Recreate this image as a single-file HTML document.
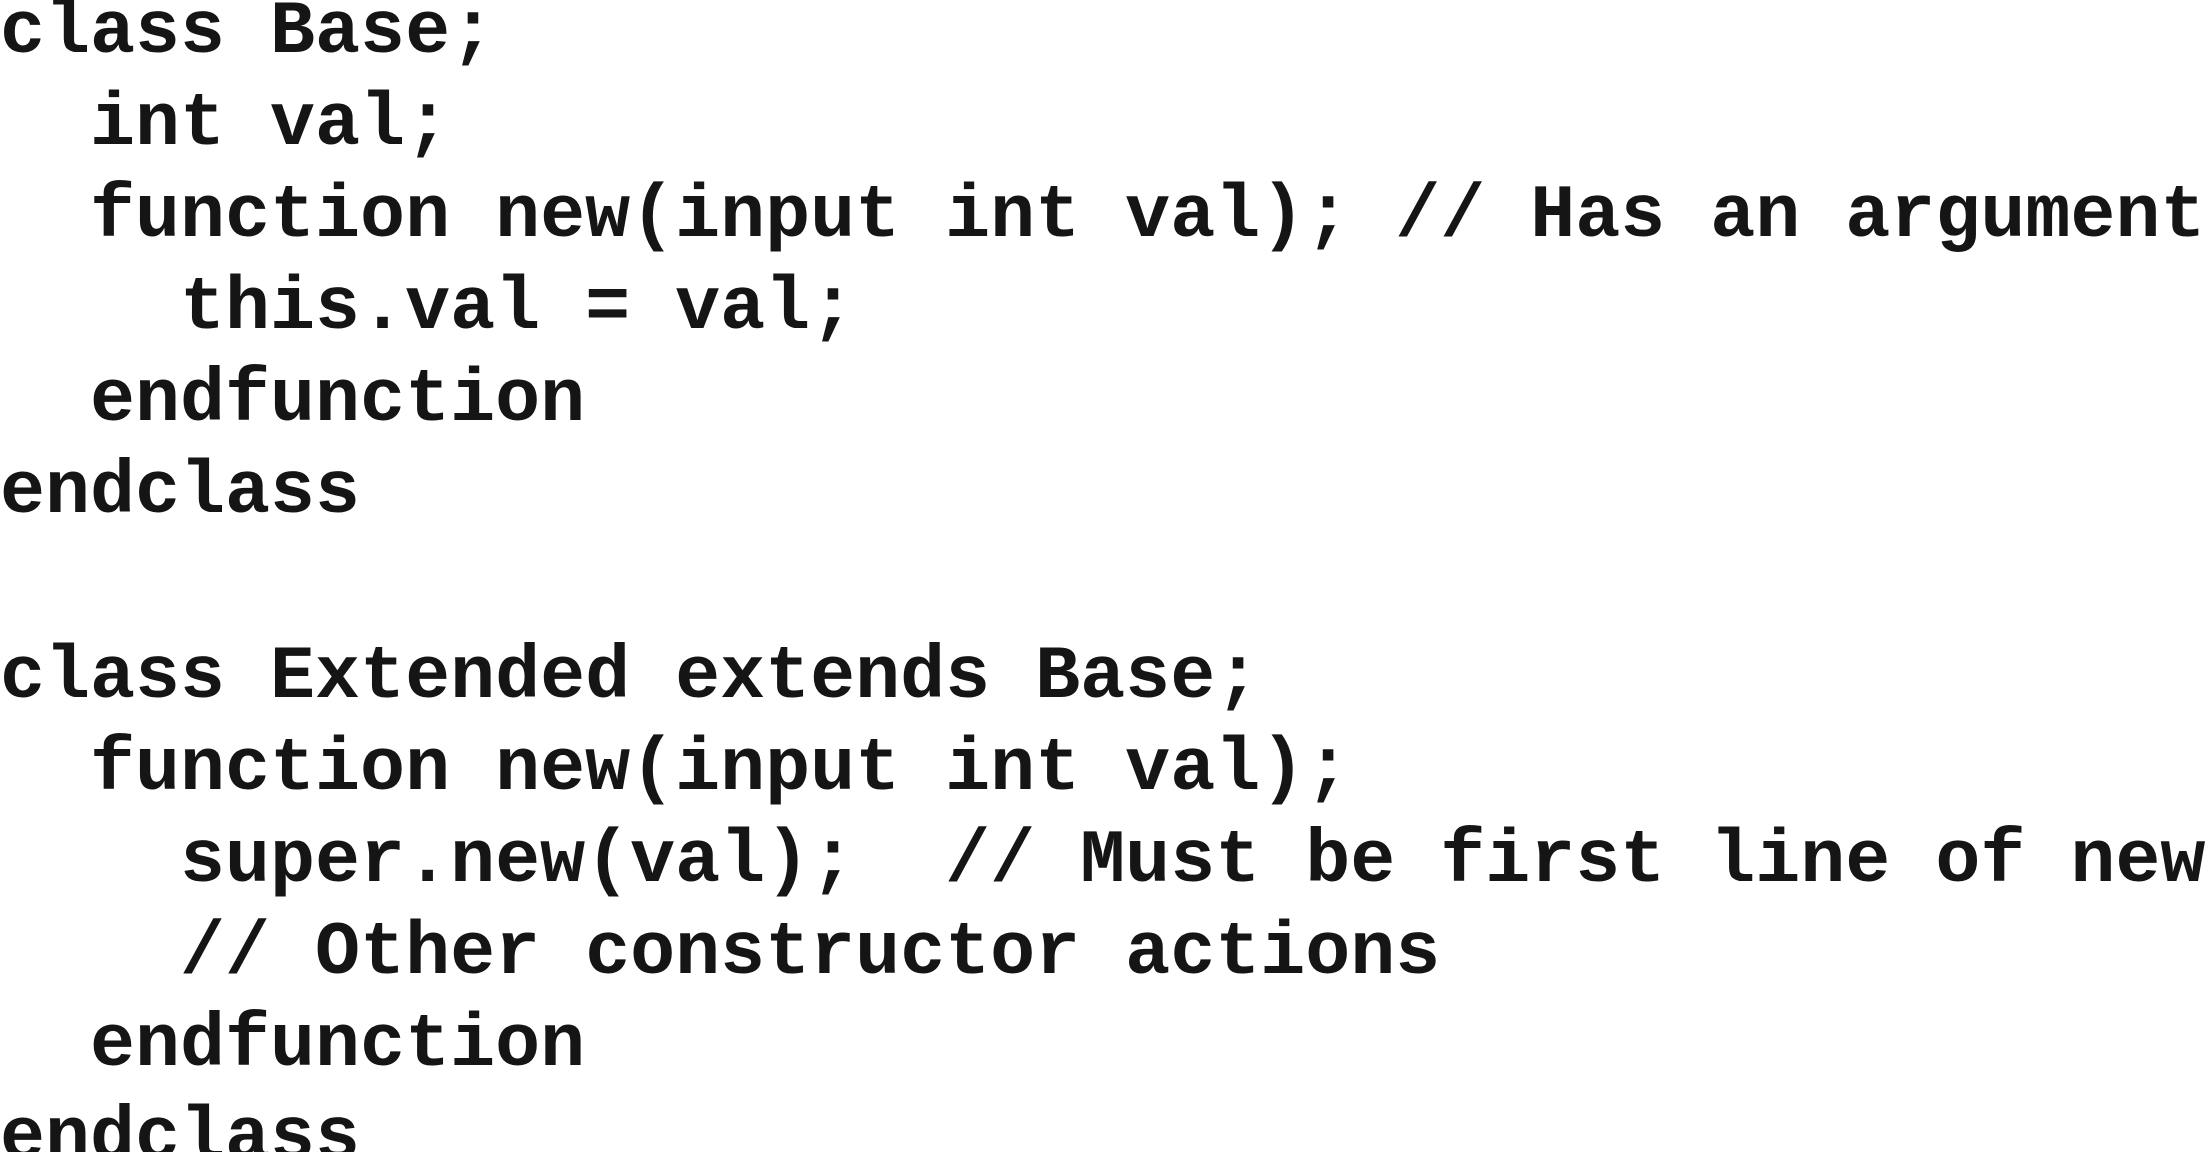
<!DOCTYPE html>
<html><head><meta charset="utf-8"><style>
html,body{margin:0;padding:0;background:#fff;width:2206px;height:1152px;overflow:hidden}
text{font-family:"Liberation Mono","DejaVu Sans Mono",monospace;font-weight:bold;font-size:75px;fill:#151515;white-space:pre}
</style></head><body>
<svg width="2206" height="1152" xmlns="http://www.w3.org/2000/svg" xml:space="preserve">
<text x="0" y="52">class Base;</text>
<text x="0" y="144">  int val;</text>
<text x="0" y="236">  function new(input int val); // Has an argument</text>
<text x="0" y="328">    this.val = val;</text>
<text x="0" y="420">  endfunction</text>
<text x="0" y="512">endclass</text>
<text x="0" y="697">class Extended extends Base;</text>
<text x="0" y="789">  function new(input int val);</text>
<text x="0" y="881">    super.new(val);  // Must be first line of new</text>
<text x="0" y="973">    // Other constructor actions</text>
<text x="0" y="1065">  endfunction</text>
<text x="0" y="1158">endclass</text>
</svg>
</body></html>
